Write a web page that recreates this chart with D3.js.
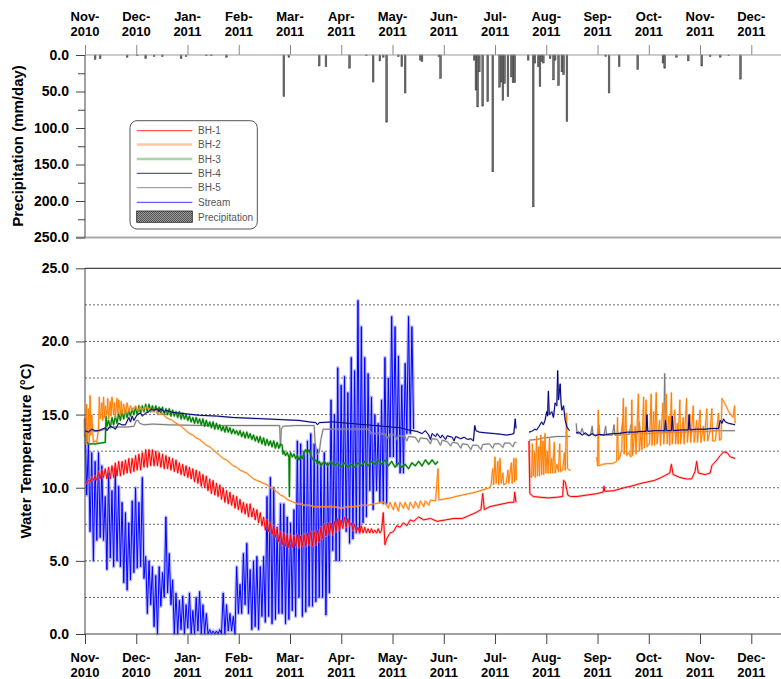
<!DOCTYPE html>
<html>
<head>
<meta charset="utf-8">
<script src="https://cdn.jsdelivr.net/npm/d3@7"></script>
<style>
  body { margin: 0; background: #fff; }
  text { font-family: "Liberation Sans", Arial, sans-serif; }
</style>
</head>
<body>
<svg id="chart" width="781" height="679"></svg>
<script>
// ---- Month axis labels (one tick per month, evenly spaced) ----
const monthNames = ["Nov-", "Dec-", "Jan-", "Feb-", "Mar-", "Apr-", "May-", "Jun-", "Jul-", "Aug-", "Sep-", "Oct-", "Nov-", "Dec-"];
const monthYears = ["2010", "2010", "2011", "2011", "2011", "2011", "2011", "2011", "2011", "2011", "2011", "2011", "2011", "2011"];
const tempTicks = [0, 5, 10, 15, 20, 25];
const tempGrid = [2.5, 5, 7.5, 10, 12.5, 15, 17.5, 20, 22.5];
const precipTicks = [0, 50, 100, 150, 200, 250];
const precipMinor = [25, 75, 125, 175, 225];

// ---- Daily precipitation (day = days since 1 Nov 2010, mm/day) ----
const precipDays = [6, 9, 25, 31, 36, 41, 46, 57, 60, 72, 75, 84, 118, 121, 139, 143, 157, 167, 171, 175, 177, 179, 186, 188, 190, 199, 200, 210, 211, 231, 232, 233, 234, 236, 239, 242, 246, 247, 248, 249, 251, 253, 254, 255, 263, 266, 267, 269, 270, 271, 272, 276, 278, 279, 281, 283, 284, 286, 309, 311, 317, 328, 343, 344, 351, 358, 366, 371, 377, 382, 389];
const precipMm = [6, 5, 3, 1, 5, 2, 2, 5, 2, 1, 1, 3, 57, 3, 15, 16, 18, 1, 37, 8, 3, 92, 2, 16, 52, 7, 9, 2, 32, 7, 48, 71, 23, 70, 64, 160, 44, 37, 62, 39, 57, 30, 38, 38, 7, 208, 11, 16, 43, 9, 11, 5, 34, 7, 42, 23, 27, 91, 2, 52, 16, 20, 11, 18, 3, 8, 15, 2, 3, 1, 33];

// ---- Stream temperature, alternating daily high / low readings from 1 Nov 2010 ----
const streamTemps = [
  14.7, 9.5, 13.0, 7.0, 12.4, 5.0, 11.8, 6.4, 12.4, 6.6,
  11.5, 6.4, 9.4, 4.4, 11.0, 5.2, 9.8, 4.6, 11.3, 5.0,
  10.1, 4.6, 9.0, 3.5, 8.3, 3.0, 7.6, 3.7, 9.1, 4.2,
  10.0, 4.5, 9.0, 4.6, 10.7, 3.8, 5.3, 1.4, 5.0, 2.0,
  4.6, 0.5, 4.0, 0.0, 4.6, 1.9, 4.2, 2.5, 8.0, 2.8,
  5.5, 2.0, 3.7, 0.0, 2.8, 0.0, 2.3, 0.3, 2.6, 0.0,
  2.0, 0.4, 2.8, 0.0, 1.6, 0.0, 2.5, 0.2, 2.9, 0.0,
  2.0, 0.0, 1.4, 0.0, 0.3, 0.0, 0.2, 0.0, 0.2, 0.0,
  0.3, 0.0, 2.8, 0.0, 2.0, 0.2, 1.4, 0.2, 1.2, 0.0,
  4.6, 1.4, 3.4, 1.4, 5.5, 2.0, 6.2, 1.4, 4.4, 0.3,
  5.0, 0.5, 5.3, 0.3, 4.6, 1.2, 5.3, 0.8, 9.4, 1.2,
  10.7, 0.7, 10.0, 1.0, 7.3, 1.4, 8.9, 1.4, 8.9, 0.7,
  8.0, 1.0, 7.6, 1.6, 8.5, 1.2, 13.2, 2.5, 13.0, 1.2,
  12.5, 1.5, 13.2, 1.9, 13.7, 1.9, 13.0, 2.2, 12.6, 2.5,
  11.7, 2.5, 12.4, 1.3, 11.7, 2.8, 16.0, 5.7, 15.0, 5.0,
  18.2, 5.0, 17.0, 7.6, 17.6, 7.0, 16.5, 6.2, 18.9, 6.5,
  18.0, 6.9, 22.8, 6.9, 21.0, 7.6, 18.9, 8.0, 17.8, 9.8,
  16.2, 8.5, 15.0, 9.8, 14.4, 9.0, 16.0, 8.9, 18.9, 8.9,
  17.5, 12.1, 21.7, 12.1, 21.0, 11.5, 19.0, 11.0, 17.0, 11.0,
  18.5, 13.7, 21.7, 13.7, 21.0, 14.0
];

// ---- Borehole temperatures: [day since 1 Nov 2010, degC]; null marks a logger gap ----
const bh1 = [
  [0,10.4],[1,10.3],[2,10.5],[3,10.4],[4,10.7],[5,10.5],[6,10.8],[7,10.5],[8,11.1],[9,10.6],
  [10,11.2],[11,10.7],[12,11.3],[13,10.6],[14,11.4],[15,10.6],[16,11.5],[17,10.7],[18,11.7],[19,10.8],
  [20,11.8],[21,10.8],[22,11.8],[23,10.9],[24,11.9],[25,11.0],[26,12.0],[27,11.0],[28,12.0],[29,11.1],
  [30,12.2],[31,11.2],[32,12.3],[33,11.2],[34,12.4],[35,11.4],[36,12.6],[37,11.4],[38,12.6],[39,11.5],
  [40,12.6],[41,11.5],[42,12.5],[43,11.5],[44,12.4],[45,11.4],[46,12.3],[47,11.3],[48,12.2],[49,11.3],
  [50,12.1],[51,11.2],[52,12.0],[53,11.1],[54,11.9],[55,11.0],[56,11.7],[57,10.9],[58,11.6],[59,10.8],
  [60,11.5],[61,10.7],[62,11.4],[63,10.6],[64,11.3],[65,10.4],[66,11.2],[67,10.3],[68,11.1],[69,10.1],
  [70,10.9],[71,10.0],[72,10.8],[73,9.8],[74,10.6],[75,9.6],[76,10.5],[77,9.5],[78,10.3],[79,9.4],
  [80,10.2],[81,9.2],[82,10.0],[83,9.0],[84,9.8],[85,8.9],[86,9.7],[87,8.8],[88,9.5],[89,8.6],
  [90,9.4],[91,8.5],[92,9.2],[93,8.3],[94,9.0],[95,8.2],[96,8.9],[97,8.0],[98,8.9],[99,8.0],
  [100,8.6],[101,7.8],[102,8.5],[103,7.6],[104,8.3],[105,7.4],[106,8.0],[107,7.1],[108,7.8],[109,7.0],
  [110,7.6],[111,6.8],[112,7.4],[113,6.6],[114,7.2],[115,6.3],[116,7.0],[117,6.1],[118,6.9],[119,6.0],
  [120,6.8],[121,5.9],[122,6.8],[123,5.9],[124,6.7],[125,6.0],[126,6.8],[127,5.9],[128,6.7],[129,6.0],
  [130,6.8],[131,6.0],[132,6.9],[133,6.1],[134,7.0],[135,6.0],[136,7.0],[137,6.1],[138,7.1],[139,6.3],
  [140,7.3],[141,6.5],[142,7.5],[143,6.7],[144,7.6],[145,6.8],[146,7.6],[147,6.8],[148,7.7],[149,7.0],
  [150,7.9],[151,7.1],[152,7.8],[153,7.2],[154,8.0],[155,7.3],[156,7.9],[157,7.4],[158,7.6],[159,7.1],
  [160,7.5],[161,7.0],[162,7.3],[163,6.9],[164,7.4],[165,6.9],[166,7.3],[167,6.9],[168,7.2],[169,6.9],
  [170,7.2],[171,6.9],[172,7.1],[173,6.9],[174,7.2],[175,6.9],[176,7.1],[177,8.3],[178,6.1],[179,6.5],
  [181,6.9],[183,7.0],[185,7.4],[187,7.3],[189,7.6],[191,7.4],[193,7.8],[195,7.7],[198,8.0],[201,7.8],
  [205,7.9],[209,7.7],[214,7.8],[219,7.9],[224,7.9],[228,8.1],[232,8.3],[235,8.5],[236,9.6],[237,8.5],
  [240,8.7],[244,8.8],[248,8.9],[252,9.0],[254.5,9.0],[255,9.7],[255.8,9.0],[256,null],
  [263.5,13.2],[264,9.6],[266,9.4],[270,9.35],[275,9.3],[280,9.35],[283.5,9.4],[284,10.5],[285,10.4],[286.5,9.5],
  [288,9.4],[292,9.4],[298,9.5],[304,9.6],[307.5,9.7],[308,10.1],[308.5,9.75],[314,9.8],[320,10.0],[324,10.1],
  [330,10.3],[334,10.4],[338,10.5],[342,10.7],[347,11.0],[348,11.6],[349,10.9],[353,10.7],[357,10.6],[360,10.6],
  [362,11.1],[363,11.8],[364,11.0],[368,10.9],[371,11.0],[372,11.5],[375,11.9],[377,12.2],[379,12.45],[381,12.4],
  [383,12.1],[385.8,12.0]
];

const bh2 = [
  [0,14.8],[0.5,13.0],[1,15.7],[1.5,13.2],[2,15.4],[2.5,13.1],[3,16.3],[3.5,13.6],[4,15.0],[5,13.1],
  [6,13.2],[7,13.1],[8,14.0],[8.5,16.2],[9,14.7],[10,15.8],[10.5,14.6],[11,16.2],[11.5,14.8],[12,15.6],
  [13,15.0],[13.5,16.1],[14,14.7],[15,15.9],[15.5,14.9],[16,16.2],[17,15.0],[17.5,15.8],[18,14.8],[19,16.1],
  [19.5,15.1],[20,16.0],[21,15.0],[21.5,15.9],[22,15.1],[23,15.7],[24,15.0],[25,15.8],[26,15.2],[27,15.6],
  [28,15.3],[30,15.6],[31,15.3],[33,15.5],[34,15.3],[36,15.5],[38,15.4],
  [40,15.2],[42,15.3],[44,15.0],[46,15.1],[48,14.8],[50,14.7],[52,14.6],[54,14.4],[56,14.3],[58,14.1],
  [60,13.9],[62,13.7],[64,13.6],[66,13.4],[68,13.3],[70,13.1],[72,12.9],[74,12.8],[76,12.6],[78,12.4],
  [80,12.2],[82,12.0],[84,11.9],[86,11.7],[88,11.5],[90,11.4],[92,11.2],[94,11.1],[96,11.0],[98,10.8],
  [100,10.6],[102,10.5],[104,10.4],[106,10.3],[108,10.2],[110,10.0],[112,9.9],[114,9.7],[116,9.5],[118,9.4],
  [120,9.2],[122,9.1],[124,9.0],[126,8.9],[128,8.9],[130,8.8],[133,8.8],[136,8.7],[140,8.7],[144,8.7],
  [148,8.7],[152,8.6],[156,8.7],[160,8.7],[164,8.8],[168,8.8],[172,8.9],[176,9.0],[178,9.0],
  [180,8.6],[181,9.0],[183,8.5],[184,9.0],[186,8.4],[187,9.0],[189,8.6],[190,9.0],[192,8.5],[193,9.0],
  [195,8.6],[196,9.05],[198,8.6],[199,9.1],[201,8.7],[202,9.1],[204,8.8],[205,9.15],[208,9.1],[209.5,11.3],
  [210,9.15],[212,9.2],[214,9.25],[217,9.3],[220,9.4],[224,9.5],[228,9.6],[232,9.7],[236,9.85],[240,10.0],
  [241,10.2],[242,11.3],[242.5,10.2],[243.3,12.1],[244,10.3],[245,11.8],[245.5,10.2],[246.3,12.0],[247,10.3],[248,11.0],
  [248.5,10.2],[250,10.3],[251,11.2],[251.5,10.3],[253,11.7],[253.5,10.3],[254.5,12.0],[255,10.4],[255.8,12.0],[256,10.5],
  [256.5,null],
  [263.5,13.2],[264,10.8],[265,10.7],[265.5,13.0],[266,10.8],[266.8,12.4],[267.2,10.7],[268,13.5],[268.5,10.8],[269.3,12.8],
  [269.7,10.8],[270.5,13.6],[271,10.9],[271.8,13.2],[272.2,10.9],[273,13.7],[273.5,11.0],[274.3,12.5],[274.8,11.0],[275.7,13.4],
  [276.2,11.0],[277,12.0],[277.5,11.0],[278.5,13.1],[279,11.0],[280,11.6],[281,11.1],[281.7,13.0],[282.2,11.1],[283.5,11.2],
  [284.5,12.4],[285,11.2],[285.8,15.1],[286.4,11.3],[287.5,11.2],[288.2,11.2],[288.5,null],
  [303.7,12.1],[304.2,11.5],[304.6,15.3],[305,11.5],[307,11.6],[310,11.65],[313,11.65],[315.5,11.8],[316,14.8],[316.5,11.9],
  [317.5,12.1],[318.5,12.6],[319.5,16.1],[320,12.3],[321,15.5],[321.5,12.2],[322.5,12.4],[324,12.1],[324.5,16.0],[325,12.2],
  [326.5,14.2],[327,12.3],[328.4,16.4],[329,12.5],[330,13.8],[330.5,12.6],[331.5,16.2],[332,12.7],[333,16.0],[333.5,12.8],
  [335,13.0],[336,16.4],[336.5,12.9],[337.5,15.2],[338,12.9],[339,16.5],[339.5,13.0],[341,14.6],[341.5,12.9],[343,15.8],
  [343.5,13.0],[345,16.4],[345.5,13.0],[346.5,14.9],[347,12.9],[348,16.5],[348.5,13.0],[350,15.3],[350.5,13.0],[351.5,14.4],
  [352,13.0],[353,16.0],[353.5,13.0],[355,14.8],[355.5,13.0],[357,16.1],[357.5,13.1],[359,15.0],[359.5,13.1],[361,15.6],
  [361.5,13.1],[363,14.6],[363.5,13.1],[365,15.3],[365.5,13.1],[367,14.2],[367.5,13.2],[369,15.4],[369.5,13.2],[371,13.9],
  [372,15.4],[372.5,13.2],[374,13.2],[376,15.1],[376.5,13.25],[377.5,13.3],[378,16.1],[380,15.7],[382,15.2],[384.6,14.8],
  [385.5,15.6],[385.8,14.4]
];

const bh3 = [
  [0,13.5],[0.5,13.9],[1,13.2],[2,13.0],[6,13.0],[12,13.1],[12.5,14.9],[13,14.2],
  [14,14.6],[15,14.1],[16,14.8],[17,14.3],[18,14.9],[19,14.4],[20,15.1],[21,14.6],[22,15.2],[23,14.7],
  [24,15.3],[25,14.8],[26,15.3],[27,14.9],[28,15.4],[29,15.0],[30,15.5],[31,15.0],[32,15.6],[33,15.1],
  [34,15.6],[35,15.2],[36,15.7],[37,15.2],[38,15.7],[39,15.2],[40,15.6],[41,15.2],[42,15.6],[43,15.1],
  [44,15.5],[45,15.1],[46,15.5],[47,15.0],[48,15.4],[49,15.0],[50,15.4],[51,14.9],[52,15.3],[53,14.9],
  [54,15.2],[55,14.8],[56,15.2],[57,14.7],[58,15.1],[59,14.7],[60,15.0],[61,14.6],[62,14.9],[63,14.5],
  [64,14.8],[65,14.4],[66,14.8],[67,14.4],[68,14.7],[69,14.3],[70,14.7],[71,14.2],[72,14.6],[73,14.2],
  [74,14.5],[75,14.1],[76,14.5],[77,14.0],[78,14.4],[79,14.0],[80,14.3],[81,13.9],[82,14.2],[83,13.8],
  [84,14.2],[85,13.8],[86,14.1],[87,13.7],[88,14.0],[89,13.7],[90,13.9],[91,13.6],[92,13.9],[93,13.5],
  [94,13.8],[95,13.4],[96,13.8],[97,13.4],[98,13.7],[99,13.3],[100,13.6],[101,13.2],[102,13.5],[103,13.1],
  [104,13.5],[105,13.0],[106,13.4],[107,12.9],[108,13.3],[109,12.9],[110,13.2],[111,12.8],[112,13.2],[113,12.7],
  [114,13.1],[115,12.7],[116,13.0],[117,12.9],[117.5,12.3],[118,12.5],[119,12.2],[120,12.4],[121,12.1],[121.3,9.4],
  [121.6,12.2],[122,12.4],[123,12.1],[124,12.3],[125,12.0],[126,12.2],[127,11.9],[128,12.2],[129,12.0],[130,12.4],
  [131,12.6],[132,12.4],[133,12.6],[134,12.2],[135,12.0],[136,11.8],[137,11.9],[138,11.6],[139,11.8],[140,11.5],
  [142,11.8],[144,11.5],[146,11.8],[148,11.5],[150,11.7],[152,11.4],[154,11.7],[156,11.4],[158,11.6],[160,11.4],
  [162,11.7],[164,11.5],[166,11.8],[168,11.5],[170,11.8],[172,11.6],[174,11.9],[176,11.6],[178,11.9],[180,11.5],
  [182,11.8],[184,11.4],[186,11.7],[188,11.4],[190,11.6],[192,11.3],[194,11.7],[196,11.5],[198,11.8],[200,11.5],
  [202,11.9],[204,11.6],[206,11.9],[208,11.6],[209.5,11.8]
];

const bh4 = [
  [0,13.9],[2,13.8],[4,14.0],[6,13.9],[8,13.9],[10,14.0],[12,14.1],[13,13.9],[15,14.2],[17,14.1],
  [18,14.0],[20,14.4],[22,14.3],[24,14.3],[26,14.8],[27,14.5],[28,14.9],[29,14.6],[31,15.0],[33,15.1],
  [34,14.9],[36,15.1],[38,15.2],[39,15.35],[41,15.3],[43,15.4],[44,15.2],[45,15.4],[47,15.2],[48,15.3],
  [52,15.15],[56,15.1],[60,15.05],[68,14.95],[78,14.9],[88,14.8],[98,14.75],[108,14.7],[117,14.65],[127,14.6],
  [133,14.5],[137,14.45],[138,14.3],[139,14.45],[147,14.5],[157,14.4],[167,14.3],[177,14.2],[187,14.1],[192,13.95],
  [197,13.85],[200,13.7],[202,13.9],[204,13.6],[205,13.3],[206,13.7],[208,13.5],[209,13.7],[211,13.4],[212,13.6],
  [214,13.3],[215,13.55],[218,13.45],[219,13.2],[220,13.5],[223,13.35],[225,13.45],[227,13.3],[229,13.35],[230.5,13.2],
  [231.3,14.25],[232,13.9],[234,13.8],[238,13.75],[243,13.7],[247,13.65],[250,13.6],[253,13.65],[254.5,13.7],[255.3,14.7],
  [255.8,14.05],[256,null],
  [263.5,13.8],[265,13.85],[267,14.0],[268,13.95],[269.5,14.2],[271,14.5],[272,14.3],[273,14.6],[274,15.2],[274.5,14.9],
  [275,16.6],[275.5,15.0],[277,15.2],[278,14.8],[279,15.8],[280,15.6],[280.5,18.0],[281,16.0],[282,17.1],[282.5,15.8],
  [283,15.3],[284,15.6],[285,14.6],[286,14.15],[287.5,13.9],[288,null],
  [291.5,13.75],[293,13.8],[295,13.6],[297,13.75],[299,13.55],[301,13.7],[303,13.55],[305,13.65],[308,13.6],[310,13.65],
  [313,13.7],[316,13.7],[319,13.75],[322,13.8],[326,13.8],[330,13.85],[333,13.85],[333.5,15.0],[334,13.85],[338,13.9],
  [342,13.9],[344,13.9],[344.5,14.6],[345,13.9],[348,13.9],[348.5,14.9],[349,13.9],[354,13.95],[358,13.95],[358.5,15.0],
  [359,13.95],[363,14.0],[368,14.0],[372,14.05],[376,14.05],[377,14.6],[378,14.4],[379,14.7],[380,14.5],[382,14.4],
  [384,14.35],[385.8,14.3]
];

const bh5 = [
  [0,13.8],[3,13.9],[6,13.85],[9,13.9],[12,14.0],[15,14.15],[20,14.15],[25,14.15],[29,14.2],[30.5,14.6],
  [31.5,14.6],[32.5,14.4],[35,14.3],[40,14.35],[50,14.3],[70,14.25],[90,14.25],[105,14.25],[115.5,14.25],[116,12.8],
  [116.5,14.0],[117.5,14.2],[125,14.25],[136,14.25],[136.5,13.2],[137.5,12.3],[139,12.4],[140,13.3],[141.3,14.0],[150,14.0],
  [160,14.0],[168,14.0],[170,13.7],[175,13.7],[178,13.65],[180,13.35],[181,13.65],[184,13.6],[185,13.3],[186,13.55],
  [190,13.5],[191,13.2],[192,13.5],[196,13.45],[198,13.1],[199,13.4],[203,13.35],[205,13.0],[206,13.35],[209,13.3],
  [211,12.9],[212,13.25],[215,13.15],[217,12.85],[218,13.1],[221,13.05],[223,12.7],[224,13.0],[227,12.95],[229,12.6],
  [230,12.9],[233,12.9],[235,12.6],[236,12.95],[240,13.0],[242,12.7],[243,13.0],[246,13.0],[248,12.75],[249,13.05],
  [252,13.05],[254,12.8],[255,13.1],[256,13.1],[256.5,null],
  [263.5,13.25],[268,13.3],[272,13.4],[276,13.45],[280,13.5],[284,13.5],[288,13.5],[288.5,null],
  [291.5,14.4],[292,13.7],[294,13.7],[295,14.05],[296,13.7],[298,13.6],[300,13.6],[301,14.2],[301.5,13.6],[304,13.6],
  [305,14.3],[305.5,13.6],[308,13.6],[309,14.2],[309.5,13.6],[313,13.6],[314,14.3],[314.5,13.6],[318,13.6],[319,14.4],
  [319.5,13.65],[323,13.65],[324,14.3],[324.5,13.65],[328,13.7],[329,14.5],[329.5,13.7],[335,13.7],[340,13.75],[343.5,13.75],
  [344,17.8],[344.5,13.75],[350,13.8],[355,13.8],[360,13.85],[365,13.85],[370,13.85],[375,13.9],[380,13.9],[385.8,13.9]
];

// ---- Layout ----
const svg = d3.select("#chart");
const W = 781;
const DAYS_PER_MONTH = 365 / 12;
const monthTicks = d3.range(monthNames.length).map(k => k * DAYS_PER_MONTH);

const x = d3.scaleLinear().domain([0, 13 * DAYS_PER_MONTH]).range([85, 751.3]);
const yT = d3.scaleLinear().domain([0, 25]).range([634, 268.3]);
const yP = d3.scaleLinear().domain([0, 250]).range([55, 237.5]);
const xRight = W;

const axisColor = "#444";
const labelFont = "bold 13px 'Liberation Sans', Arial, sans-serif";

// ===== Precipitation panel =====
const precipG = svg.append("g");

// stipple pattern for the bars
const defs = svg.append("defs");
const pat = defs.append("pattern").attr("id", "stip").attr("width", 2).attr("height", 2)
  .attr("patternUnits", "userSpaceOnUse");
pat.append("rect").attr("width", 2).attr("height", 2).attr("fill", "#9a9a9a");
pat.append("rect").attr("width", 1).attr("height", 1).attr("fill", "#555");
pat.append("rect").attr("x", 1).attr("y", 1).attr("width", 1).attr("height", 1).attr("fill", "#555");

// bottom boundary of precipitation panel
precipG.append("line").attr("x1", 76).attr("x2", xRight).attr("y1", yP(250)).attr("y2", yP(250))
  .attr("stroke", "#aaa").attr("stroke-width", 2);

// bars
const dayW = x(1) - x(0);
precipG.selectAll("rect.bar").data(precipDays.map((d, i) => ({ d, v: precipMm[i] })))
  .join("rect").attr("class", "bar")
  .attr("x", p => x(p.d) - dayW / 2)
  .attr("y", yP(0))
  .attr("width", dayW)
  .attr("height", p => yP(p.v) - yP(0))
  .attr("fill", "#6e6e6e").attr("stroke", "#3a3a3a").attr("stroke-width", 0.5);

// zero line + month ticks pointing up
const topAxis = precipG.append("g").attr("transform", `translate(0,${yP(0)})`)
  .call(d3.axisTop(x).tickValues(monthTicks).tickSize(10).tickFormat(""));
topAxis.select(".domain").remove();
topAxis.selectAll("line").attr("stroke", "#888");
precipG.append("line").attr("x1", 85).attr("x2", xRight).attr("y1", yP(0)).attr("y2", yP(0))
  .attr("stroke", "#999").attr("stroke-width", 1.2);

// month labels above
monthTicks.forEach((t, i) => {
  const g = precipG.append("text").attr("text-anchor", "middle")
    .style("font", labelFont).attr("fill", "#000");
  g.append("tspan").attr("x", x(t)).attr("y", 20.5).text(monthNames[i]);
  g.append("tspan").attr("x", x(t)).attr("y", 35.5).text(monthYears[i]);
});

// left precipitation axis
const pAxis = precipG.append("g").attr("transform", "translate(85,0)")
  .call(d3.axisLeft(yP).tickValues(precipTicks).tickSize(9).tickPadding(7).tickFormat(d3.format(".1f")));
pAxis.select(".domain").attr("stroke", axisColor).attr("d", `M0,${yP(0)}V${yP(250)}`);
pAxis.selectAll("line").attr("stroke", axisColor);
pAxis.selectAll("text").style("font", "bold 14px 'Liberation Sans', Arial, sans-serif").attr("fill", "#000");
precipG.append("g").attr("transform", "translate(85,0)")
  .call(d3.axisLeft(yP).tickValues(precipMinor).tickSize(7).tickFormat(""))
  .call(g => g.select(".domain").remove())
  .selectAll("line").attr("stroke", axisColor);

precipG.append("text").attr("transform", `translate(23,${146}) rotate(-90)`)
  .attr("text-anchor", "middle").style("font", "bold 15px 'Liberation Sans', Arial, sans-serif")
  .text("Precipitation (mm/day)");

// ===== Temperature panel =====
const tempG = svg.append("g");

// dashed grid
tempG.selectAll("line.grid").data(tempGrid).join("line").attr("class", "grid")
  .attr("x1", 85).attr("x2", xRight).attr("y1", d => yT(d)).attr("y2", d => yT(d))
  .attr("stroke", "#555").attr("stroke-width", 0.9).attr("stroke-dasharray", "2,2");

// top frame line
tempG.append("line").attr("x1", 85).attr("x2", xRight).attr("y1", yT(25)).attr("y2", yT(25))
  .attr("stroke", axisColor).attr("stroke-width", 1.2);

const line = d3.line().defined(d => d[1] != null).x(d => x(d[0])).y(d => yT(d[1]));

const stream = streamTemps.map((t, i) => [i, t]);

function drawSeries(data, color, halo, haloW, haloOp, w) {
  tempG.append("path").datum(data).attr("d", line).attr("fill", "none")
    .attr("stroke", halo).attr("stroke-width", haloW).attr("stroke-opacity", haloOp)
    .attr("stroke-linejoin", "round");
  tempG.append("path").datum(data).attr("d", line).attr("fill", "none")
    .attr("stroke", color).attr("stroke-width", w).attr("stroke-linejoin", "round");
}

drawSeries(stream, "#0000ff", "#7f7fff", 3.4, 0.55, 1);
drawSeries(bh5, "#7a7a7a", "#b0b0b0", 2, 0.5, 1);
drawSeries(bh3, "#008000", "#60b060", 2.4, 0.5, 1.2);
drawSeries(bh2, "#ff7f00", "#ffb070", 2.2, 0.5, 1);
drawSeries(bh1, "#ff0000", "#ff8080", 2.4, 0.5, 1);
drawSeries(bh4, "#000080", "#6060a8", 1.8, 0.45, 1);

// bottom axis with month ticks
const bAxis = tempG.append("g").attr("transform", `translate(0,${yT(0)})`)
  .call(d3.axisBottom(x).tickValues(monthTicks).tickSize(10).tickFormat(""));
bAxis.select(".domain").remove();
bAxis.selectAll("line").attr("stroke", axisColor);
tempG.append("line").attr("x1", 85).attr("x2", xRight).attr("y1", yT(0)).attr("y2", yT(0))
  .attr("stroke", axisColor).attr("stroke-width", 1.2);

monthTicks.forEach((t, i) => {
  const g = tempG.append("text").attr("text-anchor", "middle")
    .style("font", labelFont).attr("fill", "#000");
  g.append("tspan").attr("x", x(t)).attr("y", 662).text(monthNames[i]);
  g.append("tspan").attr("x", x(t)).attr("y", 677).text(monthYears[i]);
});

// left temperature axis
const tAxis = tempG.append("g").attr("transform", "translate(85,0)")
  .call(d3.axisLeft(yT).tickValues(tempTicks).tickSize(9).tickPadding(7).tickFormat(d3.format(".1f")));
tAxis.select(".domain").attr("stroke", axisColor).attr("d", `M0,${yT(0)}V${yT(25)}`);
tAxis.selectAll("line").attr("stroke", axisColor);
tAxis.selectAll("text").style("font", "bold 14px 'Liberation Sans', Arial, sans-serif").attr("fill", "#000");

tempG.append("text").attr("transform", `translate(31,${451}) rotate(-90)`)
  .attr("text-anchor", "middle").style("font", "bold 15px 'Liberation Sans', Arial, sans-serif")
  .text("Water Temperauture (\u00B0C)");

// ===== Legend =====
const legendItems = [
  { name: "BH-1", color: "#ff3030", w: 1 },
  { name: "BH-2", color: "#ffc8a0", w: 2.5 },
  { name: "BH-3", color: "#a8d4a8", w: 2.5 },
  { name: "BH-4", color: "#303078", w: 1 },
  { name: "BH-5", color: "#8a8a8a", w: 1 },
  { name: "Stream", color: "#3a3aff", w: 1 }
];
const lg = svg.append("g");
lg.append("rect").attr("x", 130).attr("y", 120.7).attr("width", 127.3).attr("height", 108.3)
  .attr("rx", 7).attr("fill", "#fff").attr("stroke", "#555").attr("stroke-width", 1);
const rowY = [130.7, 144.5, 159, 173.3, 187.7, 202.3];
legendItems.forEach((it, i) => {
  lg.append("line").attr("x1", 136.7).attr("x2", 192.3).attr("y1", rowY[i]).attr("y2", rowY[i])
    .attr("stroke", it.color).attr("stroke-width", it.w);
  lg.append("text").attr("x", 198).attr("y", rowY[i] + 3.6)
    .style("font", "10px 'Liberation Sans', Arial, sans-serif").attr("fill", "#555").text(it.name);
});
lg.append("rect").attr("x", 136.7).attr("y", 211).attr("width", 55.6).attr("height", 11.3)
  .attr("fill", "url(#stip)").attr("stroke", "#222").attr("stroke-width", 0.8);
lg.append("text").attr("x", 198).attr("y", 220.6)
  .style("font", "10px 'Liberation Sans', Arial, sans-serif").attr("fill", "#555").text("Precipitation");
</script>
</body>
</html>
